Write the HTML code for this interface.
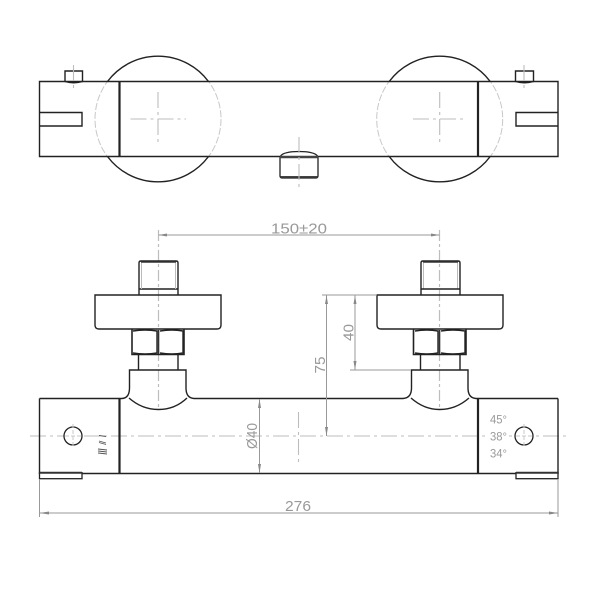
<!DOCTYPE html>
<html>
<head>
<meta charset="utf-8">
<style>
html,body{margin:0;padding:0;background:#fff}
svg{display:block}
text{font-family:"Liberation Sans",sans-serif;fill:#999}
.k{fill:none;stroke:#222;stroke-width:1.4}
.t{fill:none;stroke:#222;stroke-width:2.2}
.c{fill:none;stroke:#bdbdbd;stroke-width:1.1;stroke-dasharray:16 4 3 4}
.c2{fill:none;stroke:#bdbdbd;stroke-width:1.2;stroke-dasharray:11 3 3 3}
.d{fill:none;stroke:#999;stroke-width:1}
.g{fill:none;stroke:#bbb;stroke-width:1}
.a{fill:#888}
</style>
</head>
<body>
<svg width="600" height="600" viewBox="0 0 600 600" xmlns="http://www.w3.org/2000/svg">
<rect width="600" height="600" fill="#fff"/>

<!-- TOP VIEW -->
<circle cx="158" cy="119" r="63" fill="none" stroke="#c8c8c8" stroke-width="1" stroke-dasharray="7 2"/>
<circle cx="439.7" cy="119" r="63" fill="none" stroke="#c8c8c8" stroke-width="1" stroke-dasharray="7 2"/>
<path class="k" d="M107.5 81.5 A63 63 0 0 1 208.5 81.5 M107.5 156.5 A63 63 0 0 0 208.5 156.5"/>
<path class="k" d="M389.2 81.5 A63 63 0 0 1 490.2 81.5 M389.2 156.5 A63 63 0 0 0 490.2 156.5"/>
<path class="k" d="M39.5 81.5 H558 V156.5 H39.5 Z"/>
<path class="t" d="M119.5 81.5 V156.5 M478 81.5 V156.5"/>
<path class="k" d="M39.5 112.5 H82 V126 H39.5"/>
<path class="k" d="M558 112.5 H516 V126 H558"/>
<path class="k" d="M65 81.5 V71 H82.5 V81.5 Q73.7 84 65 81.5 Z"/>
<path class="k" d="M515.5 81.5 V71 H533.5 V81.5 Q524.5 84 515.5 81.5 Z"/>
<path class="c" stroke-dasharray="7 3" d="M73.5 65 V92 M524 65 V92"/>
<path class="c" stroke-dasharray="14 3 3 3" d="M130.5 119 H186 M158 92 V146 M413 119 H467 M439.7 92 V146"/>
<rect x="280" y="156" width="38" height="22" rx="2" fill="#fff" stroke="#222" stroke-width="1.3"/>
<path fill="#fff" stroke="#222" stroke-width="1.3" d="M280.5 156 Q284 151.5 299 151.5 Q314 151.5 317.5 156"/>
<path d="M280 157 H318" stroke="#444" stroke-width="2.4" fill="none"/>
<path d="M280.5 176.8 H317.5" stroke="#444" stroke-width="1.6" fill="none"/>
<path class="c" stroke-dasharray="9 3" d="M299 137 V190"/>

<!-- FRONT VIEW -->
<path class="c" d="M30 436 H568"/>
<path class="c2" d="M158.5 230 V410"/>
<path class="c2" d="M439.5 230 V410"/>
<path class="c" stroke-dasharray="14 3 3 3" d="M298.5 412 V462"/>

<!-- thread -->
<path class="k" d="M139 295 V263 Q139 261 141 261 H176 Q178 261 178 263 V295 M139 289 H178"/>
<path d="M141 262 H176" stroke="#333" stroke-width="1.6"/>
<path class="g" d="M141.5 263 V289 M175.5 263 V289 M423.5 263 V289 M457.5 263 V289"/>
<path class="k" d="M421 295 V263 Q421 261 423 261 H458 Q460 261 460 263 V295 M421 289 H460"/>
<path d="M423 262 H458" stroke="#333" stroke-width="1.6"/>
<!-- handle -->
<path class="k" d="M95 295 H221 V325 Q221 329 217 329 H99 Q95 329 95 325 Z"/>
<path class="k" d="M377 295 H503 V325 Q503 329 499 329 H381 Q377 329 377 325 Z"/>
<!-- nuts -->
<path d="M132 329 V354.5 H184 V329" fill="none" stroke="#222" stroke-width="1.6"/>
<path class="k" stroke-width="1" d="M133 331 Q145 329 157 331 V353 Q145 355 133 353 M160 331 Q172 329 183 331 V353 Q172 355 160 353"/>
<path d="M158.5 330 V354" stroke="#333" stroke-width="1.6"/>
<path d="M413.5 329 V354.5 H466 V329" fill="none" stroke="#222" stroke-width="1.6"/>
<path class="k" stroke-width="1" d="M415 331 Q427 329 438 331 V353 Q427 355 415 353 M441 331 Q453 329 465 331 V353 Q453 355 441 353"/>
<path d="M439.5 330 V354" stroke="#333" stroke-width="1.6"/>
<path class="k" d="M138.5 355 V370 M178 355 V370 M420.5 355 V370 M460 355 V370"/>
<path class="k" d="M39.5 398.5 H119 M119 398.5 H122 Q129.5 398 129.5 388 V370 H186 V388 Q186 398 194 398.5 H403 Q411.5 398 411.5 388 V370 H468 V388 Q468 398 476 398.5 H558"/>
<path class="k" d="M129 398 Q142 409.5 158.5 409.5 Q175 409.5 187 398"/>
<path class="k" d="M411 398 Q424 409.5 439.5 409.5 Q456 409.5 469 398"/>
<path class="k" d="M39.5 398.5 V473.5 H558 V398.5"/>
<path class="t" d="M119.5 398.5 V473.5 M478 398.5 V473.5"/>
<rect x="39.5" y="472.7" width="42.5" height="6" fill="#fff" stroke="#222" stroke-width="1.3"/>
<path d="M39.5 472.7 H82" stroke="#333" stroke-width="2"/>
<rect x="516" y="472.7" width="42" height="6" fill="#fff" stroke="#222" stroke-width="1.3"/>
<path d="M516 472.7 H558" stroke="#333" stroke-width="2"/>
<circle cx="73" cy="436" r="9" fill="#fff" stroke="#222" stroke-width="1.3"/>
<circle cx="524" cy="436" r="9" fill="#fff" stroke="#222" stroke-width="1.3"/>
<path d="M73 424 V448 M65 436 H81 M524 424 V448 M516 436 H532" fill="none" stroke="#c8c8c8" stroke-width="1" stroke-dasharray="4 2"/>

<!-- angle labels -->
<rect x="489" y="430" width="20" height="12" fill="#fff"/>
<text x="490" y="423.5" font-size="12" textLength="17" lengthAdjust="spacingAndGlyphs">45°</text>
<text x="490" y="440.5" font-size="12" textLength="17" lengthAdjust="spacingAndGlyphs">38°</text>
<text x="490" y="457.5" font-size="12" textLength="17" lengthAdjust="spacingAndGlyphs">34°</text>
<path d="M99 435.5 L106 436.5 M99 441 L106 443 M99 442.5 L106 444.5 M98 449 L107 450 M98 451 L107 452 M98 453 L107 454" stroke="#555" stroke-width="0.9" fill="none"/>

<!-- DIMENSIONS -->
<path class="d" d="M158.5 235 H439.5"/>
<path class="a" d="M158.5 235 L167 233.5 V236.5 Z M439.5 235 L431 233.5 V236.5 Z"/>
<text x="271" y="233.5" font-size="15" textLength="56" lengthAdjust="spacingAndGlyphs">150±20</text>
<path class="d" d="M322 295 H377 M350 370 H411"/>
<path class="d" d="M326.5 295 V436 M355 295 V370"/>
<path class="a" d="M326.5 295.5 L325 304 H328 Z M326.5 436 L325 427 H328 Z M355 295.5 L353.5 304 H356.5 Z M355 370 L353.5 361 H356.5 Z"/>
<text transform="translate(353.5,341) rotate(-90)" font-size="15" textLength="17" lengthAdjust="spacingAndGlyphs">40</text>
<text transform="translate(325,373.5) rotate(-90)" font-size="15" textLength="17" lengthAdjust="spacingAndGlyphs">75</text>
<path class="d" d="M259.5 399 V473"/>
<path class="a" d="M259.5 399 L258 408 H261 Z M259.5 473 L258 464 H261 Z"/>
<text transform="translate(257,449) rotate(-90)" font-size="14.5" textLength="26" lengthAdjust="spacingAndGlyphs">Ø40</text>
<path class="d" d="M39.5 479 V517 M558 479 V517 M39.5 513 H558"/>
<path class="a" d="M39.5 513 L49 511.5 V514.5 Z M558 513 L549 511.5 V514.5 Z"/>
<text x="285" y="511" font-size="15" textLength="26" lengthAdjust="spacingAndGlyphs">276</text>
</svg>
</body>
</html>
